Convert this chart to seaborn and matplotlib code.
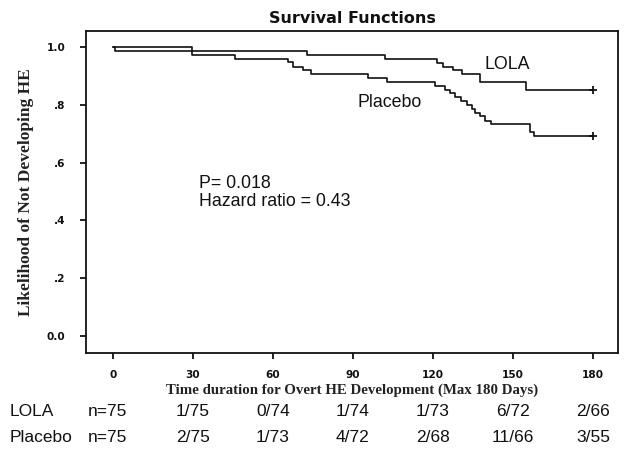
import matplotlib
matplotlib.use("Agg")
import matplotlib.pyplot as plt
import matplotlib.transforms as mtransforms
import seaborn as sns
import pandas as pd

# ---- data ----
lola_time = [0, 29.7, 72.6, 102.0, 121.4, 123.8, 127.5, 131.0, 137.6, 155.0, 180.0]
lola_surv = [1.0, 0.987, 0.973, 0.960, 0.946, 0.933, 0.920, 0.906, 0.879, 0.853, 0.853]

placebo_time = [0, 0.8, 29.7, 45.8, 65.7, 67.5, 71.2, 74.4, 95.7, 102.6,
                120.7, 124.5, 126.4, 128.2, 130.7, 132.6, 134.5, 135.7, 137.6, 139.5, 141.6,
                156.4, 158.0, 180.0]
placebo_surv = [1.0, 0.987, 0.973, 0.960, 0.947, 0.933, 0.920, 0.906, 0.893, 0.880,
                0.866, 0.853, 0.840, 0.826, 0.813, 0.800, 0.786, 0.773, 0.760, 0.746, 0.733,
                0.706, 0.693, 0.693]

x_ticks = [0, 30, 60, 90, 120, 150, 180]
x_ticklabels = ["0", "30", "60", "90", "120", "150", "180"]
y_ticks = [0.0, 0.2, 0.4, 0.6, 0.8, 1.0]
y_ticklabels = ["0.0", ".2", ".4", ".6", ".8", "1.0"]

risk_cols = [-2, 30, 60, 90, 120, 150, 180]
lola_risk = ["n=75", "1/75", "0/74", "1/74", "1/73", "6/72", "2/66"]
placebo_risk = ["n=75", "2/75", "1/73", "4/72", "2/68", "11/66", "3/55"]

# ---- figure ----
sns.set_theme(style="white")
plt.rcParams["font.family"] = ["Liberation Sans", "DejaVu Sans"]

fig = plt.figure(figsize=(6.25, 4.49), dpi=100)
ax = fig.add_axes([86 / 625, 1 - 353 / 449, (618 - 86) / 625, (353 - 31) / 449])

lola_df = pd.DataFrame({"t": lola_time, "s": lola_surv})
plac_df = pd.DataFrame({"t": placebo_time, "s": placebo_surv})

sns.lineplot(data=lola_df, x="t", y="s", drawstyle="steps-post", estimator=None,
             color="#111111", linewidth=1.2, ax=ax)
sns.lineplot(data=plac_df, x="t", y="s", drawstyle="steps-post", estimator=None,
             color="#111111", linewidth=1.2, ax=ax)
sns.scatterplot(x=[lola_time[-1], placebo_time[-1]], y=[lola_surv[-1], placebo_surv[-1]],
                marker="+", s=35, color="#111111", linewidth=1.3, ax=ax, zorder=5)

ax.set_xlim(-10.1, 189.4)
ax.set_ylim(-0.059, 1.056)
ax.set_xticks(x_ticks)
ax.set_xticklabels(x_ticklabels)
ax.set_yticks(y_ticks)
ax.set_yticklabels(y_ticklabels)

for sp in ax.spines.values():
    sp.set_color("#111111")
    sp.set_linewidth(1.3)
    sp.set_visible(True)

ax.tick_params(axis="both", which="both", direction="out", length=4, width=1.3,
               color="#111111", bottom=True, left=True)
ax.tick_params(axis="x", pad=8)
ax.tick_params(axis="y", pad=11)
for lab in ax.get_xticklabels() + ax.get_yticklabels():
    lab.set_fontfamily("DejaVu Sans")
    lab.set_fontweight("bold")
    lab.set_fontsize(7.6)
    lab.set_color("#111111")

ax.set_xlabel("Time duration for Overt HE Development (Max 180 Days)",
              fontfamily="Liberation Serif", fontweight="bold", fontsize=10.7,
              color="#222222", labelpad=3)
ax.set_ylabel("Likelihood of Not Developing HE",
              fontfamily="Liberation Serif", fontweight="bold", fontsize=12.5,
              color="#222222", labelpad=9)
ax.set_title("Survival Functions", fontfamily="DejaVu Sans", fontweight="bold",
             fontsize=11.5, color="#111111", pad=6)

ax.text(139.5, 0.941, "LOLA", fontsize=12.8, color="#111111", va="center", ha="left")
ax.text(91.9, 0.810, "Placebo", fontsize=12.8, color="#111111", va="center", ha="left")
ax.text(32.2, 0.529, "P= 0.018", fontsize=12.8, color="#111111", va="center", ha="left")
ax.text(32.2, 0.467, "Hazard ratio = 0.43", fontsize=12.8, color="#111111", va="center", ha="left")

# ---- risk table ----
trans = mtransforms.blended_transform_factory(ax.transData, fig.transFigure)
row_y = [1 - 411 / 449, 1 - 437 / 449]
fig.text(10 / 625, row_y[0], "LOLA", fontsize=12.5, color="#111111", va="center", ha="left")
fig.text(10 / 625, row_y[1], "Placebo", fontsize=12.5, color="#111111", va="center", ha="left")
for xc, a, b in zip(risk_cols, lola_risk, placebo_risk):
    ax.text(xc, row_y[0], a, transform=trans, fontsize=12.5, color="#111111",
            va="center", ha="center", clip_on=False)
    ax.text(xc, row_y[1], b, transform=trans, fontsize=12.5, color="#111111",
            va="center", ha="center", clip_on=False)

fig.savefig("out.png", dpi=100)
